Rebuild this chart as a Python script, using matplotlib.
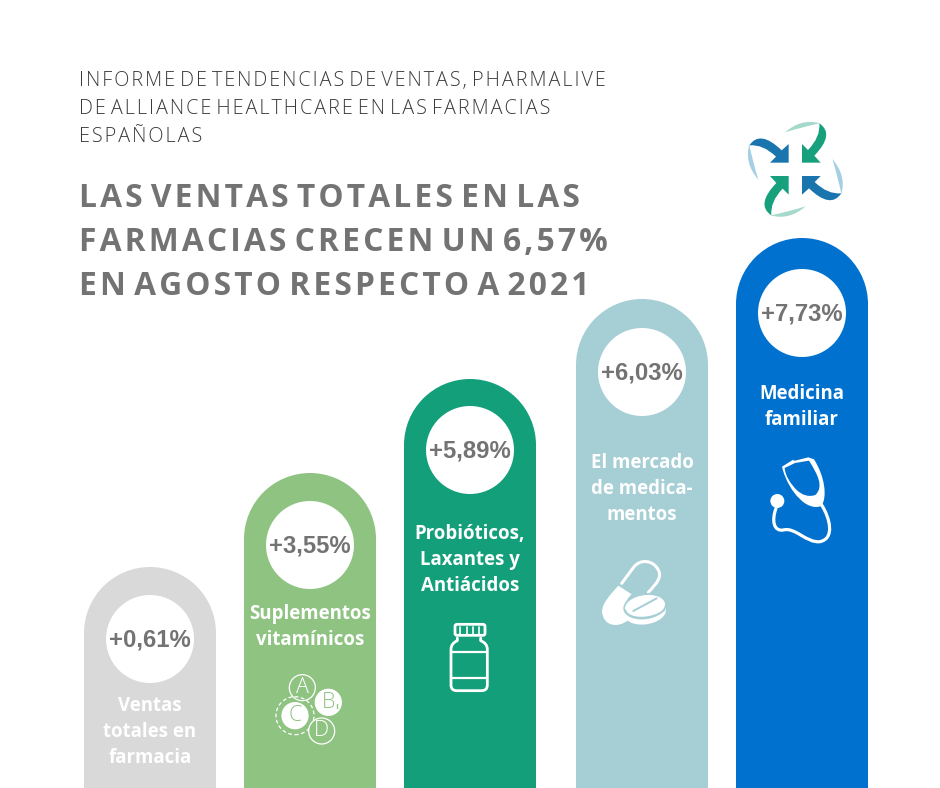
import matplotlib
matplotlib.use("Agg")
import matplotlib.pyplot as plt
from matplotlib.path import Path
from matplotlib.patches import PathPatch, Circle, Ellipse, FancyBboxPatch
import numpy as np

# ---- data ----
categories = ["Ventas\ntotales en\nfarmacia", "Suplementos\nvitamínicos", "Probióticos,\nLaxantes y\nAntiácidos",
              "El mercado\nde medica-\nmentos", "Medicina\nfamiliar"]
values = [0.61, 3.55, 5.89, 6.03, 7.73]
value_labels = ["+0,61%", "+3,55%", "+5,89%", "+6,03%", "+7,73%"]
bar_heights = [221, 315, 409, 489, 550]
bar_colors = ["#d9d9d9", "#8fc382", "#129f7a", "#a5ced5", "#0071ce"]
subtitle_lines = ["INFORME DE TENDENCIAS DE VENTAS, PHARMALIVE", "DE ALLIANCE HEALTHCARE EN LAS FARMACIAS", "ESPAÑOLAS"]
title_lines = ["LAS VENTAS TOTALES EN LAS", "FARMACIAS CRECEN UN 6,57%", "EN AGOSTO RESPECTO A 2021"]

# ---- layout ----
W, H = 940, 788
centers = [150, 310, 470, 642, 802]
BAR_W = 132
circle_y = [639, 545, 450, 372, 313]
label_first_y = [706, 614, 534, 463, 394]

fig = plt.figure(figsize=(W / 100, H / 100), dpi=100, facecolor="white")
ax = fig.add_axes([0, 0, 1, 1])
ax.set_xlim(0, W)
ax.set_ylim(0, H)
ax.axis("off")

def Y(y):
    return H - y

def track(s):
    """Letter-space a line: a hair space between the letters of each word."""
    return " ".join("\u200a".join(word) for word in s.split(" "))

# ---- text block ----
GREY = "#737373"
for i, line in enumerate(subtitle_lines):
    ax.text(79, Y(80.5 + 28 * i), track(line), family="Open Sans", weight="light", fontsize=14.25,
            color="#3a3a3a", va="center", ha="left")
for i, line in enumerate(title_lines):
    ax.text(79, Y(198 + 44 * i), track(line), family="Open Sans", weight="bold", fontsize=22.9,
            color=GREY, va="center", ha="left")

# ---- bars ----
for c, h, col, val, cat, ly, cyp in zip(centers, bar_heights, bar_colors, value_labels, categories, label_first_y, circle_y):
    ax.bar(c, h - BAR_W / 2, width=BAR_W, bottom=0, color=col, linewidth=0, zorder=1)
    ax.add_patch(Circle((c, h - BAR_W / 2), BAR_W / 2, fc=col, ec="none", zorder=1))
    ax.add_patch(Circle((c, Y(cyp)), 44, fc="white", ec="none", zorder=2))
    ax.text(c, Y(cyp + 1), val, family="Liberation Sans", weight="bold", fontsize=17.2, color=GREY,
            ha="center", va="center", zorder=3)
    for j, part in enumerate(cat.split("\n")):
        ax.text(c, Y(ly + 26 * j), part, family="Open Sans", weight="bold", fontsize=13.4, color="white",
                ha="center", va="center", zorder=3)

# ---- icon helpers: coordinates given in zoomed crop units ----
def to_xy(pts, ox, oy, k=3.0):
    return [(ox + p[0] / k, H - (oy + p[1] / k)) for p in pts]

def curve(cmds, ox, oy, fc="white", ec="none", lw=0, z=4, close=True):
    verts, codes = [], []
    for cmd in cmds:
        if cmd[0] == "M":
            verts.append(cmd[1]); codes.append(Path.MOVETO)
        elif cmd[0] == "L":
            verts.append(cmd[1]); codes.append(Path.LINETO)
        elif cmd[0] == "Q":
            verts += [cmd[1], cmd[2]]; codes += [Path.CURVE3] * 2
        elif cmd[0] == "C":
            verts += [cmd[1], cmd[2], cmd[3]]; codes += [Path.CURVE4] * 3
    if close:
        verts.append(verts[0]); codes.append(Path.CLOSEPOLY)
    p = Path(to_xy(verts, ox, oy), codes)
    ax.add_patch(PathPatch(p, fc=fc, ec=ec, lw=lw, zorder=z, capstyle="round", joinstyle="round"))

# ---- logo ----
LX, LY = 720, 110
cx, cy = 226, 178
def rot(p, n):
    dx, dy = p[0] - cx, p[1] - cy
    for _ in range(n):
        dx, dy = dy, -dx
    return (cx + dx, cy + dy)
arrow = [("M", (298, 40)), ("Q", (302, 81), (264, 120)), ("L", (246, 102)), ("L", (246, 158)),
         ("L", (302, 158)), ("L", (283, 137)), ("Q", (346, 72), (298, 40))]
arc = [("M", (195, 67)), ("Q", (245, 24), (300, 40)), ("Q", (250, 50), (195, 67))]
arrow_cols = ["#16a07c", "#1a74ad", "#16a07c", "#1a74ad"]
arc_cols = ["#a4d9cc", "#a5cfe3", "#a4d9cc", "#a5cfe3"]
for n in range(4):
    curve([(c[0], *[rot(p, n) for p in c[1:]]) for c in arc], LX, LY, fc=arc_cols[n])
    curve([(c[0], *[rot(p, n) for p in c[1:]]) for c in arrow], LX, LY, fc=arrow_cols[n])

# ---- stethoscope ----
SX, SY = 740, 440
BLUE = bar_colors[4]
curve([("M", (158, 60)), ("L", (126, 80)), ("C", (135, 120), (160, 160), (178, 175)),
       ("C", (195, 195), (225, 208), (245, 197)), ("C", (262, 170), (255, 110), (222, 58)),
       ("L", (205, 52)), ("L", (165, 62))], SX, SY)
curve([("M", (207, 62)), ("C", (234, 105), (252, 140), (226, 165)), ("C", (205, 172), (186, 165), (170, 150)),
       ("C", (152, 132), (136, 108), (134, 84)), ("L", (165, 69))], SX, SY, fc=BLUE)
curve([("M", (245, 195)), ("C", (270, 235), (285, 295), (240, 305)), ("C", (200, 310), (165, 260), (130, 270)),
       ("C", (100, 275), (95, 240), (108, 205))], SX, SY, fc="none", ec="white", lw=2.3, close=False)
sx, sy = to_xy([(112, 183)], SX, SY)[0]
ax.add_patch(Circle((sx, sy), 7, fc="white", ec="none", zorder=4))

# ---- pills ----
PX, PY = 590, 545
LIGHT = bar_colors[3]
curve([("M", (95, 115)), ("L", (130, 68)), ("C", (150, 40), (190, 45), (205, 75)), ("C", (215, 95), (205, 110), (175, 142))],
      PX, PY, fc="none", ec="white", lw=2.2, close=False)
curve([("M", (85, 122)), ("L", (125, 148)), ("C", (105, 165), (95, 195), (115, 225)), ("C", (85, 250), (40, 245), (36, 200)),
       ("C", (36, 175), (60, 150), (85, 122))], PX, PY)
tx, ty = to_xy([(165, 190)], PX, PY)[0]
ax.add_patch(Ellipse((tx, ty - 4), 42, 24, angle=8, fc="white", ec="none", zorder=4))
ax.add_patch(Ellipse((tx, ty + 2), 42, 24, angle=8, fc="white", ec=LIGHT, lw=1.2, zorder=5))
curve([("M", (130, 198)), ("L", (200, 160))], PX, PY, fc="none", ec=LIGHT, lw=1.4, close=False, z=6)
curve([("M", (106, 195)), ("C", (115, 225), (185, 225), (224, 195))], PX, PY, fc="none", ec=LIGHT, lw=1.0, close=False, z=6)

# ---- bottle ----
BX, BY = 430, 610
x0, y0 = to_xy([(69, 82)], BX, BY)[0]
ax.add_patch(FancyBboxPatch((x0 + 2, y0 + 2), 30, 11, boxstyle="round,pad=0,rounding_size=2", fc="none", ec="white", lw=2, zorder=4))
for sxp in [90, 110, 128, 147]:
    curve([("M", (sxp, 50)), ("L", (sxp, 72))], BX, BY, fc="none", ec="white", lw=1.2, close=False)
curve([("M", (82, 84)), ("L", (82, 92)), ("Q", (63, 100), (63, 118)), ("L", (63, 225)), ("Q", (63, 242), (80, 242)),
       ("L", (155, 242)), ("Q", (172, 242), (172, 225)), ("L", (172, 118)), ("Q", (172, 100), (152, 92)), ("L", (152, 84))],
      BX, BY, fc="none", ec="white", lw=2, close=False)
curve([("M", (63, 126)), ("L", (172, 126))], BX, BY, fc="none", ec="white", lw=1.6, close=False)
curve([("M", (63, 205)), ("L", (172, 205))], BX, BY, fc="none", ec="white", lw=1.6, close=False)

# ---- vitamins ----
VX, VY = 265, 665
GREEN = bar_colors[1]
def vit(px, py, letter, filled, r=13):
    x, y = to_xy([(px, py)], VX, VY)[0]
    ax.add_patch(Circle((x, y), r, fc="white" if filled else GREEN, ec="white", lw=0.9, zorder=4))
    ax.text(x, y, letter, family="Open Sans", weight="light", fontsize=15.5, color=GREEN if filled else "white",
            ha="center", va="center", zorder=5)
vit(112, 68, "A", False)
vit(190, 112, "B", True)
curve([("M", (215, 118)), ("L", (215, 128))], VX, VY, fc="none", ec=GREEN, lw=1.0, close=False, z=6)
x, y = to_xy([(90, 152)], VX, VY)[0]
ax.add_patch(Circle((x, y), 19, fc="none", ec="white", lw=0.9, ls=(0, (3, 2)), zorder=4))
vit(90, 152, "C", True)
vit(170, 198, "D", False)

fig.savefig("out.png", dpi=100, facecolor="white")
